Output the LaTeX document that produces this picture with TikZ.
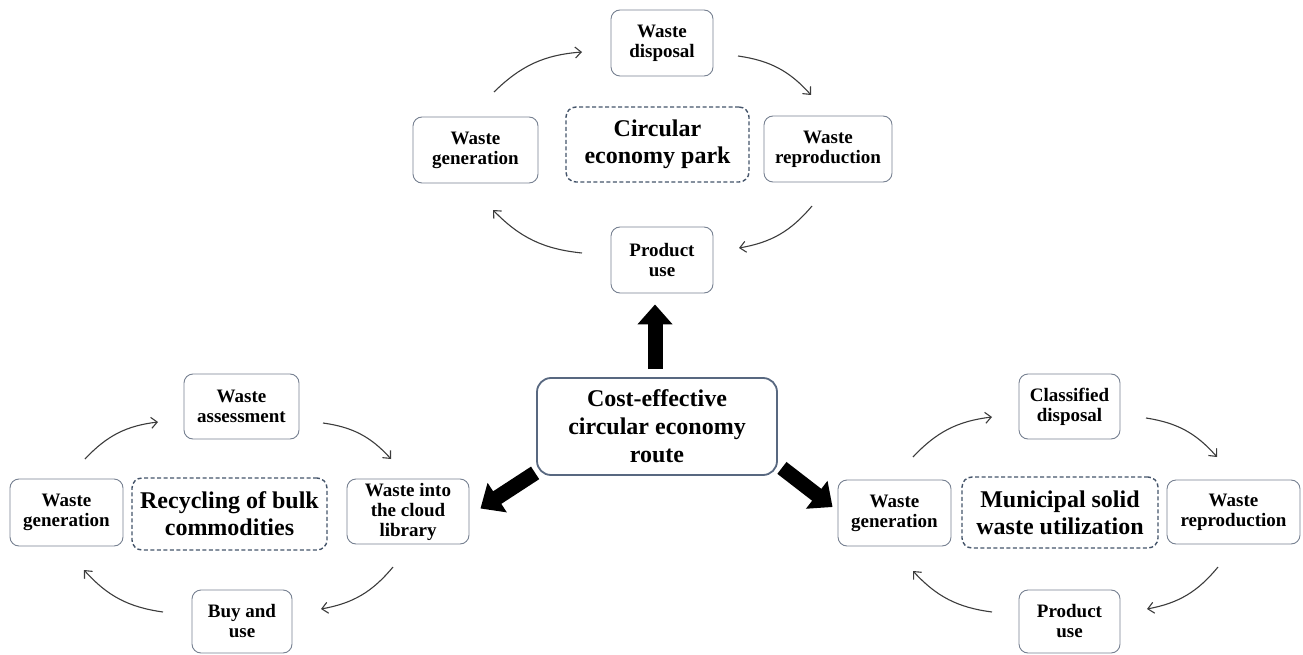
\documentclass[tikz,border=0pt]{standalone}
\usepackage{fontspec}
\setmainfont{Liberation Serif}
\usetikzlibrary{arrows.meta}
\definecolor{boxgray}{RGB}{118,128,145}
\definecolor{dashblue}{RGB}{68,84,106}
\definecolor{mainblue}{RGB}{88,104,128}
\definecolor{arrowgray}{RGB}{60,60,60}
\begin{document}
\begin{tikzpicture}[x=1pt,y=-1pt,
  stepbox/.style={draw=boxgray,line width=0.9pt,rounded corners=9pt,align=center,inner sep=0pt,
    font=\fontsize{19}{20}\selectfont\bfseries},
  titlebox/.style={draw=dashblue,line width=1.4pt,dash pattern=on 4pt off 2.5pt,rounded corners=10pt,
    align=center,inner sep=0pt,font=\fontsize{24}{27}\selectfont\bfseries},
  mainbox/.style={draw=mainblue,line width=1.8pt,rounded corners=14pt,align=center,inner sep=0pt,
    font=\fontsize{24}{28}\selectfont\bfseries},
  cyc/.style={draw=arrowgray,line width=1.1pt,-{Straight Barb[length=6pt,width=11pt]},bend left=20},
  bigarrow/.style={draw=black,line width=15pt,-{Triangle[width=34pt,length=20pt]}}]
\useasboundingbox (0,0) rectangle (1303,655);

% top group
\node[stepbox,minimum width=102pt,minimum height=66pt] (tdisp) at (662,43) {Waste\\disposal};
\node[stepbox,minimum width=125pt,minimum height=66pt] (tgen) at (475.5,150) {Waste\\generation};
\node[titlebox,minimum width=183pt,minimum height=75pt] (tpark) at (657.5,144.5) {Circular\\economy park};
\node[stepbox,minimum width=128pt,minimum height=66pt] (trep) at (828,149) {Waste\\reproduction};
\node[stepbox,minimum width=102pt,minimum height=66pt] (tuse) at (662,260) {Product\\use};

% left group
\node[stepbox,minimum width=115pt,minimum height=65pt] (lass) at (241.5,406.5) {Waste\\assessment};
\node[stepbox,minimum width=113pt,minimum height=67pt] (lgen) at (66.5,512.5) {Waste\\generation};
\node[titlebox,minimum width=195pt,minimum height=72pt] (lrec) at (229.5,514) {Recycling of bulk\\commodities};
\node[stepbox,minimum width=122pt,minimum height=65pt] (lcloud) at (408,511.5) {Waste into\\the cloud\\library};
\node[stepbox,minimum width=100pt,minimum height=63pt] (lbuy) at (242,621.5) {Buy and\\use};

% right group
\node[stepbox,minimum width=101pt,minimum height=65pt] (rcls) at (1069.5,406.5) {Classified\\disposal};
\node[stepbox,minimum width=113pt,minimum height=66pt] (rgen) at (894.5,513) {Waste\\generation};
\node[titlebox,minimum width=196pt,minimum height=71pt] (rmun) at (1060,512.5) {Municipal solid\\waste utilization};
\node[stepbox,minimum width=133pt,minimum height=64pt] (rrep) at (1233.5,512) {Waste\\reproduction};
\node[stepbox,minimum width=101pt,minimum height=63pt] (ruse) at (1069.5,621.5) {Product\\use};

% center
\node[mainbox,minimum width=240pt,minimum height=97pt] (c) at (657,426.5) {Cost-effective\\circular economy\\route};

% big arrows
\draw[bigarrow] ([shift={(-2,-8)}]c.north) -- ([shift={(-7,11)}]tuse.south);
\draw[bigarrow] ([shift={(-1,-3)}]c.south west) -- ([shift={(11,-3)}]lcloud.east);
\draw[bigarrow] ([shift={(4,-8)}]c.south east) -- ([shift={(-5,-6)}]rgen.west);

% cycle arrows: top
\coordinate (t1a) at (494,92);  \coordinate (t1b) at (582,52);
\coordinate (t2a) at (738,56);  \coordinate (t2b) at (811,95);
\coordinate (t3a) at (812,206); \coordinate (t3b) at (739,248);
\coordinate (t4a) at (582,253); \coordinate (t4b) at (493,210);
\draw[cyc] (t1a) to (t1b);
\draw[cyc] (t2a) to (t2b);
\draw[cyc] (t3a) to (t3b);
\draw[cyc] (t4a) to (t4b);

% cycle arrows: left
\coordinate (l1a) at (85,459);  \coordinate (l1b) at (158,422);
\coordinate (l2a) at (323,423); \coordinate (l2b) at (391,459);
\coordinate (l3a) at (393,567); \coordinate (l3b) at (321,609);
\coordinate (l4a) at (163,612); \coordinate (l4b) at (84,570);
\draw[cyc] (l1a) to (l1b);
\draw[cyc] (l2a) to (l2b);
\draw[cyc] (l3a) to (l3b);
\draw[cyc] (l4a) to (l4b);

% cycle arrows: right
\coordinate (r1a) at (913,457);  \coordinate (r1b) at (992,417);
\coordinate (r2a) at (1146,418); \coordinate (r2b) at (1217,457);
\coordinate (r3a) at (1218,567); \coordinate (r3b) at (1147,609);
\coordinate (r4a) at (992,612);  \coordinate (r4b) at (913,571);
\draw[cyc] (r1a) to (r1b);
\draw[cyc] (r2a) to (r2b);
\draw[cyc] (r3a) to (r3b);
\draw[cyc] (r4a) to (r4b);
\end{tikzpicture}
\end{document}
